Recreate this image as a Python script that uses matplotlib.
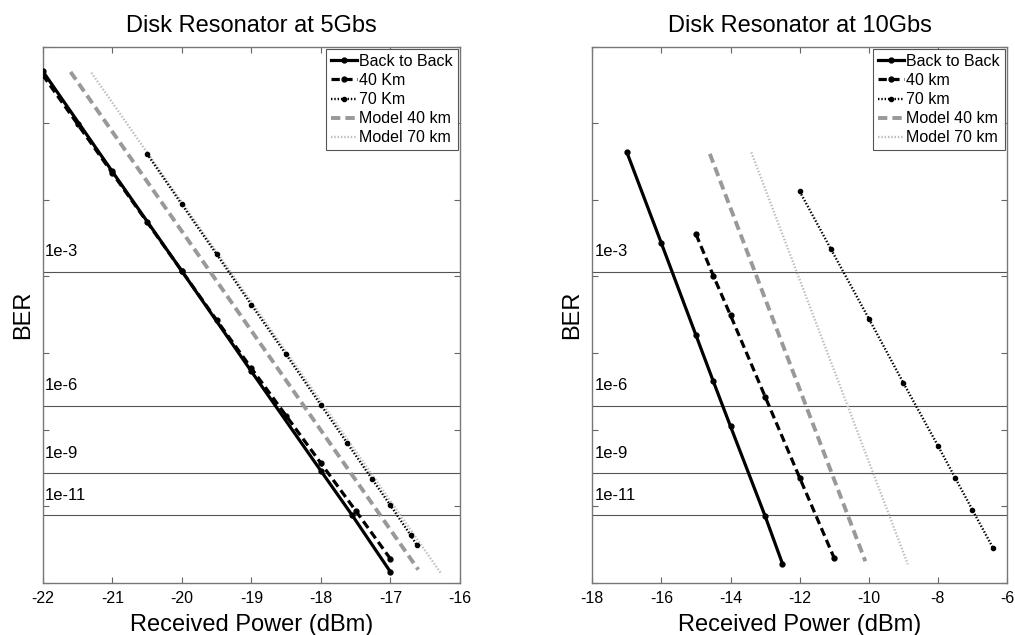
import matplotlib
matplotlib.use("Agg")
import matplotlib.pyplot as plt

plt.rcParams["font.family"] = ["Liberation Sans", "DejaVu Sans"]

# BER axis is a transformed scale: values below are positions in that scale (0 = bottom, 7 = top)
ber_levels = [4.06, 2.31, 1.43, 0.88]
ber_labels = ["1e-3", "1e-6", "1e-9", "1e-11"]

# --- 5 Gb/s ---
b2b_5g_x = [-22, -21, -20, -19, -18, -17.55, -17]
b2b_5g_y = [6.68, 5.37, 4.07, 2.76, 1.46, 0.88, 0.14]
km40_5g_x = [-22, -21.5, -21, -20.5, -20, -19.5, -19, -18.5, -18, -17.5, -17]
km40_5g_y = [6.63, 5.99, 5.35, 4.71, 4.07, 3.43, 2.80, 2.18, 1.56, 0.94, 0.31]
km70_5g_x = [-20.5, -20, -19.5, -19, -18.5, -18, -17.62, -17.27, -17, -16.71, -16.62]
km70_5g_y = [5.60, 4.94, 4.29, 3.63, 2.98, 2.32, 1.82, 1.36, 1.01, 0.62, 0.49]
model40_5g_x = [-21.6, -16.6]
model40_5g_y = [6.67, 0.17]
model70_5g_x = [-21.3, -16.28]
model70_5g_y = [6.66, 0.13]

# --- 10 Gb/s ---
b2b_10g_x = [-17, -16, -15, -14.5, -14, -13, -12.5]
b2b_10g_y = [5.62, 4.43, 3.23, 2.63, 2.04, 0.87, 0.25]
km40_10g_x = [-15, -14.5, -14, -13, -12, -11]
km40_10g_y = [4.55, 4.01, 3.49, 2.43, 1.37, 0.32]
km70_10g_x = [-12, -11.1, -10, -9, -8, -7.5, -7, -6.4]
km70_10g_y = [5.11, 4.36, 3.45, 2.61, 1.79, 1.37, 0.95, 0.45]
model40_10g_x = [-14.6, -10.1]
model40_10g_y = [5.60, 0.28]
model70_10g_x = [-13.4, -8.87]
model70_10g_y = [5.62, 0.24]


def draw_panel(ax, title, data, labels, xlim, xticks):
    (b2b, km40, km70, m40, m70) = data
    h1, = ax.plot(*b2b, color="black", lw=2.3, marker="o", ms=3.5, label=labels[0], zorder=5)
    h2, = ax.plot(*km40, color="black", lw=2.3, marker="o", ms=3.5, dashes=(2.6, 1.4),
                  label=labels[1], zorder=6)
    h3, = ax.plot(*km70, color="black", lw=1.7, marker="o", ms=3, linestyle=(0, (0.6, 0.8)),
                  label=labels[2], zorder=4)
    h4, = ax.plot(*m40, color="#999999", lw=2.8, dashes=(2.4, 1.3), label=labels[3], zorder=3)
    h5, = ax.plot(*m70, color="#bdbdbd", lw=1.7, linestyle=(0, (0.6, 0.8)), label=labels[4], zorder=2)

    for lev, lab in zip(ber_levels, ber_labels):
        ax.axhline(lev, color="#555555", lw=0.8, zorder=1)
        ax.text(xlim[0] + 0.006 * (xlim[1] - xlim[0]), lev + 0.26, lab, fontsize=12,
                va="center", ha="left")

    ax.set_xlim(*xlim)
    ax.set_ylim(0, 7)
    ax.set_xticks(xticks)
    ax.set_xticklabels([f"{t:g}" for t in xticks])
    ax.set_yticks(range(0, 8))
    ax.set_yticklabels([])
    ax.tick_params(direction="in", length=4, width=0.8, color="#666666", labelsize=11.5,
                   top=True, right=True, pad=6)
    for sp in ax.spines.values():
        sp.set_color("#777777")
        sp.set_linewidth(1.0)

    ax.set_title(title, fontsize=17, pad=10.5)
    ax.set_xlabel("Received Power (dBm)", fontsize=17, labelpad=6)
    ax.set_ylabel("BER", fontsize=17, labelpad=0.5)

    leg = ax.legend(handles=[h1, h2, h3, h4, h5], loc="upper right", fontsize=11.5,
                    handlelength=1.6, handletextpad=0.15, labelspacing=0.26,
                    borderpad=0.3, borderaxespad=0.15, numpoints=1, fancybox=False,
                    framealpha=1, edgecolor="#555555")
    leg.get_frame().set_linewidth(0.8)


fig = plt.figure(figsize=(10.15, 6.35), dpi=100)
ax1 = fig.add_axes([0.0421, 0.0824, 0.4111, 0.8441])
ax2 = fig.add_axes([0.5836, 0.0824, 0.4085, 0.8441])

draw_panel(ax1, "Disk Resonator at 5Gbs",
           [(b2b_5g_x, b2b_5g_y), (km40_5g_x, km40_5g_y), (km70_5g_x, km70_5g_y),
            (model40_5g_x, model40_5g_y), (model70_5g_x, model70_5g_y)],
           ["Back to Back", "40 Km", "70 Km", "Model 40 km", "Model 70 km"],
           (-22, -16), list(range(-22, -15)))

draw_panel(ax2, "Disk Resonator at 10Gbs",
           [(b2b_10g_x, b2b_10g_y), (km40_10g_x, km40_10g_y), (km70_10g_x, km70_10g_y),
            (model40_10g_x, model40_10g_y), (model70_10g_x, model70_10g_y)],
           ["Back to Back", "40 km", "70 km", "Model 40 km", "Model 70 km"],
           (-18, -6), list(range(-18, -5, 2)))

fig.savefig("out.png", dpi=100)
